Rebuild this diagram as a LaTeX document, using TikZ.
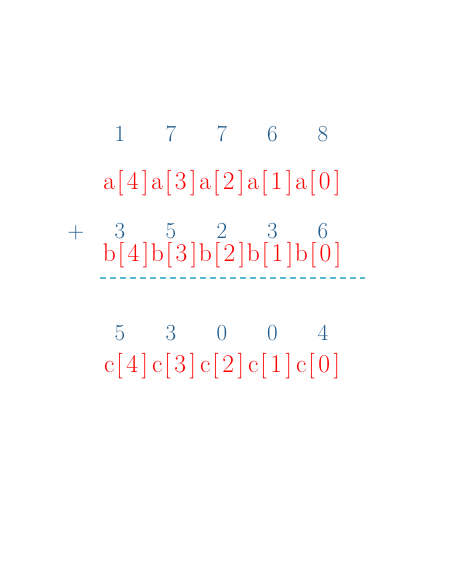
\documentclass[tikz,border=0pt]{standalone}
\usepackage{fontspec}
\setmainfont{Latin Modern Roman}
\definecolor{digblue}{RGB}{32,92,140}
\definecolor{lblred}{RGB}{255,0,0}
\definecolor{dashcyan}{RGB}{90,184,208}
\newcommand\arrlab[2]{#1\kern2pt[\kern3.5pt#2\kern3.5pt]}
\begin{document}
\begin{tikzpicture}[x=1pt,y=-1pt,
  digit/.style={anchor=base,inner sep=0pt,text=digblue,font=\fontsize{23}{28}\selectfont},
  lbl/.style={anchor=base,inner sep=0pt,text=lblred,font=\fontsize{25.5}{30}\selectfont},
  sumline/.style={draw=dashcyan,line width=1.6pt,dash pattern=on 6pt off 4pt}]
\useasboundingbox (0,0) rectangle (454,567);
% row 1
\foreach \d/\x [count=\i] in {1/120,7/171,7/222,6/272.5,8/323}
  \node[digit] (da\i) at (\x,141) {\d};
\foreach \k/\x in {4/126,3/174,2/222,1/270,0/318}
  \node[lbl] (la\k) at (\x,189) {\arrlab{a}{\k}};
% row 2
\node[digit] (plus) at (76,238) {+};
\foreach \d/\x [count=\i] in {3/120,5/171,2/222,3/272.5,6/323}
  \node[digit] (db\i) at (\x,238) {\d};
\foreach \k/\x in {4/126,3/174,2/222,1/270,0/318}
  \node[lbl] (lb\k) at (\x,261) {\arrlab{b}{\k}};
% line
\coordinate (ls) at (100,278);
\coordinate (le) at (365,278);
\draw[sumline] (ls) -- (le);
% row 3
\foreach \d/\x [count=\i] in {5/120,3/171,0/222,0/272.5,4/323}
  \node[digit] (dc\i) at (\x,340) {\d};
\foreach \k/\x in {4/126,3/174,2/222,1/270,0/318}
  \node[lbl] (lc\k) at (\x,372) {\arrlab{c}{\k}};
\end{tikzpicture}
\end{document}
